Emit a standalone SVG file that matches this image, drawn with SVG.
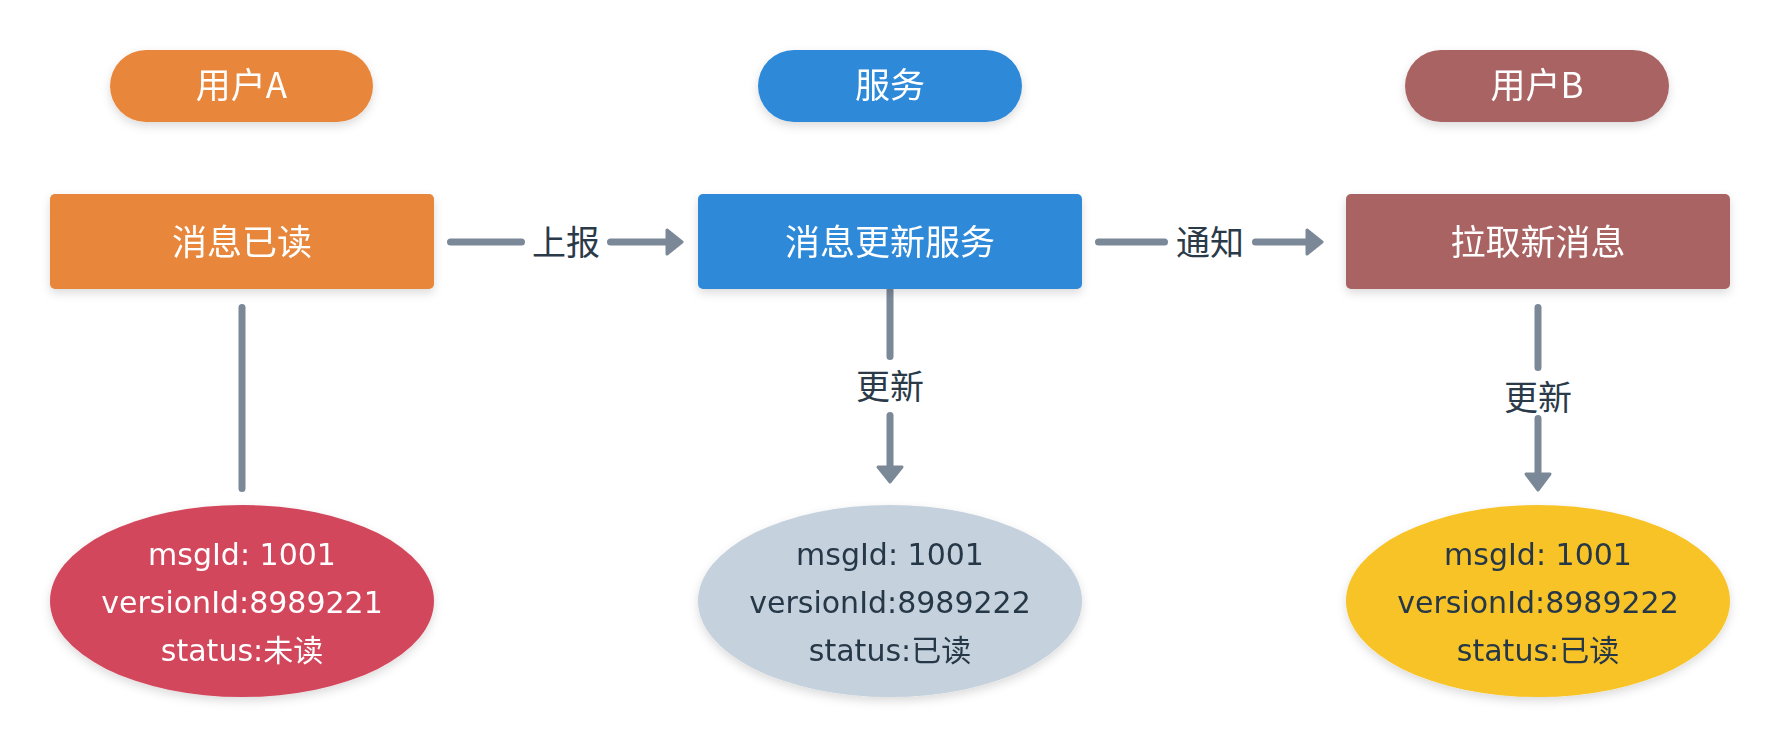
<svg xmlns="http://www.w3.org/2000/svg" width="1780" height="748" viewBox="0 0 1780 748">
<defs>
<filter id="sh" x="-10%" y="-20%" width="120%" height="150%">
<feDropShadow dx="0" dy="4" stdDeviation="5" flood-color="#000" flood-opacity="0.14"/>
</filter>
<style>
.cjk{font-family:"Noto Sans CJK SC","Noto Sans",sans-serif;}
.lbl{font-size:35px;fill:#ffffff;text-anchor:middle;font-family:"Noto Sans CJK SC","Noto Sans",sans-serif;}
.elab{font-size:34px;fill:#2a3a48;text-anchor:middle;font-family:"Noto Sans CJK SC","Noto Sans",sans-serif;}
.et{font-size:30px;text-anchor:middle;font-family:"DejaVu Sans","Noto Sans CJK SC",sans-serif;}
.w{fill:#ffffff;}
.d{fill:#263847;}
.ln{stroke:#7a8898;stroke-width:7;stroke-linecap:round;fill:none;}
.ah{fill:#7a8898;stroke:#7a8898;stroke-width:3;stroke-linejoin:round;}
</style>
</defs>
<rect width="1780" height="748" fill="#ffffff"/>

<g id="connectors">
<g id="c-a-svc">
<line class="ln" x1="450.5" y1="242" x2="521.5" y2="242"/>
<text class="elab" x="566" y="255">上报</text>
<line class="ln" x1="610.5" y1="242" x2="668" y2="242"/>
<polygon class="ah" points="667,230 682,242 667,254"/>
</g>
<g id="c-svc-b">
<line class="ln" x1="1098.5" y1="242" x2="1164.5" y2="242"/>
<text class="elab" x="1210" y="255">通知</text>
<line class="ln" x1="1255.5" y1="242" x2="1308" y2="242"/>
<polygon class="ah" points="1307,230 1322,242 1307,254"/>
</g>
<g id="c-a-down">
<line class="ln" x1="242" y1="307.5" x2="242" y2="488.5"/>
</g>
<g id="c-svc-down">
<line class="ln" x1="890" y1="290" x2="890" y2="356.5"/>
<text class="elab" x="890" y="399">更新</text>
<line class="ln" x1="890" y1="415.5" x2="890" y2="468"/>
<polygon class="ah" points="878,467 890,482 902,467"/>
</g>
<g id="c-b-down">
<line class="ln" x1="1538" y1="307.5" x2="1538" y2="367.5"/>
<text class="elab" x="1538" y="410">更新</text>
<line class="ln" x1="1538" y1="418.5" x2="1538" y2="475"/>
<polygon class="ah" points="1526,474 1538,490 1550,474"/>
</g>
</g>

<g id="pill-a" filter="url(#sh)">
<rect x="110" y="50" width="263" height="72" rx="36" fill="#e8863a"/>
<text class="lbl" x="241.5" y="98">用户A</text>
</g>
<g id="pill-svc" filter="url(#sh)">
<rect x="758" y="50" width="264" height="72" rx="36" fill="#2d89d9"/>
<text class="lbl" x="890" y="98">服务</text>
</g>
<g id="pill-b" filter="url(#sh)">
<rect x="1405" y="50" width="264" height="72" rx="36" fill="#aa6363"/>
<text class="lbl" x="1537" y="98">用户B</text>
</g>

<g id="rect-a" filter="url(#sh)">
<rect x="50" y="194" width="384" height="95" rx="5" fill="#e8863a"/>
<text class="lbl" x="242" y="255">消息已读</text>
</g>
<g id="rect-svc" filter="url(#sh)">
<rect x="698" y="194" width="384" height="95" rx="5" fill="#2d89d9"/>
<text class="lbl" x="890" y="255">消息更新服务</text>
</g>
<g id="rect-b" filter="url(#sh)">
<rect x="1346" y="194" width="384" height="95" rx="5" fill="#aa6363"/>
<text class="lbl" x="1538" y="255">拉取新消息</text>
</g>

<g id="ell-a" filter="url(#sh)">
<ellipse cx="242" cy="601" rx="192" ry="96" fill="#d3475c"/>
<text class="et w" x="242" y="565">msgId: 1001</text>
<text class="et w" x="242" y="613">versionId:8989221</text>
<text class="et w" x="242" y="661">status:未读</text>
</g>
<g id="ell-svc" filter="url(#sh)">
<ellipse cx="890" cy="601" rx="192" ry="96" fill="#c5d1dc"/>
<text class="et d" x="890" y="565">msgId: 1001</text>
<text class="et d" x="890" y="613">versionId:8989222</text>
<text class="et d" x="890" y="661">status:已读</text>
</g>
<g id="ell-b" filter="url(#sh)">
<ellipse cx="1538" cy="601" rx="192" ry="96" fill="#f7c327"/>
<text class="et d" x="1538" y="565">msgId: 1001</text>
<text class="et d" x="1538" y="613">versionId:8989222</text>
<text class="et d" x="1538" y="661">status:已读</text>
</g>
</svg>
